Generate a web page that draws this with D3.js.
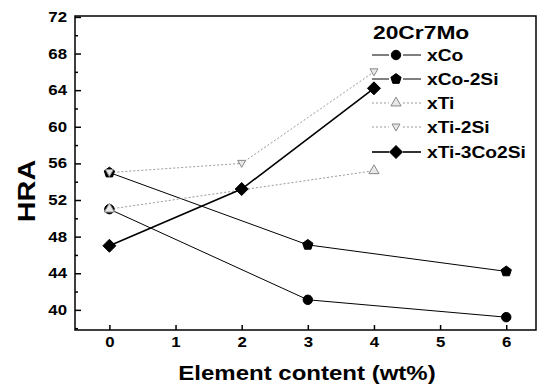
<!DOCTYPE html>
<html><head><meta charset="utf-8">
<script src="https://cdn.jsdelivr.net/npm/d3@7"></script>
<style>body{margin:0;background:#fff}svg{display:block}text{font-family:"Liberation Sans",Arial,sans-serif;font-weight:bold}</style>
</head><body><svg id="c" width="538" height="387"></svg>
<script>
const xTicks = [0,1,2,3,4,5,6];
const yTicks = [40,44,48,52,56,60,64,68,72];
const seriesNames = ["xCo","xCo-2Si","xTi","xTi-2Si","xTi-3Co2Si"];
const xCoX = [0,3,6],   xCoY = [51,41.1,39.2];
const xCo2SiX = [0,3,6], xCo2SiY = [55,47.1,44.2];
const xTiX = [0,4],      xTiY = [51,55.2];
const xTi2SiX = [0,2,4], xTi2SiY = [55,56,66];
const xTi3CoX = [0,2,4], xTi3CoY = [47,53.2,64.2];
const legendTitle = "20Cr7Mo";

const svg = d3.select("#c");
const L=75, R=536, T=16, B=330;
const x = d3.scaleLinear().domain([-0.52,6.45]).range([L,R]);
const y = d3.scaleLinear().domain([37.8,72.1]).range([B,T]);
const WIDE = 1.2;
function widen(sel){ sel.each(function(){ const w=this.getComputedTextLength(); d3.select(this).attr("textLength",w*WIDE).attr("lengthAdjust","spacingAndGlyphs"); }); }

const styles = [
 {x:xCoX,y:xCoY,stroke:"#000",dash:null,w:1,sym:"circle",fill:"#000",mstroke:"#000",size:70},
 {x:xCo2SiX,y:xCo2SiY,stroke:"#000",dash:null,w:1,sym:"pent",fill:"#000",mstroke:"#000",size:70},
 {x:xTiX,y:xTiY,stroke:"#999",dash:"2,2",w:1,sym:"tri",fill:"#e8e8e8",mstroke:"#888",size:45},
 {x:xTi2SiX,y:xTi2SiY,stroke:"#999",dash:"2,2",w:1,sym:"dtri",fill:"#e8e8e8",mstroke:"#888",size:45},
 {x:xTi3CoX,y:xTi3CoY,stroke:"#000",dash:null,w:1.6,sym:"diamond",fill:"#000",mstroke:"#000",size:90},
];
function pentagonPath(r){const p=[];for(let i=0;i<5;i++){const a=-Math.PI/2+i*2*Math.PI/5;p.push([r*Math.cos(a),r*Math.sin(a)]);}return "M"+p.map(d=>d.join(",")).join("L")+"Z";}
function symPath(s,size){
  if(s==="circle") return d3.symbol(d3.symbolCircle,size)();
  if(s==="pent") return pentagonPath(Math.sqrt(size/2.4));
  if(s==="tri") return d3.symbol(d3.symbolTriangle,size)();
  if(s==="dtri") return "M-4,-3L4,-3L0,4Z";
  if(s==="diamond") return "M0,-6.5L6.5,0L0,6.5L-6.5,0Z";
}

// frame
svg.append("rect").attr("x",L).attr("y",T).attr("width",R-L).attr("height",B-T).attr("fill","none").attr("stroke","#000").attr("stroke-width",1.5);

// axes
const gx = svg.append("g").attr("transform",`translate(0,${B})`)
 .call(d3.axisBottom(x).tickValues(xTicks).tickSizeInner(-5).tickSizeOuter(0).tickPadding(7).tickFormat(d3.format("d")));
const gy = svg.append("g").attr("transform",`translate(${L},0)`)
 .call(d3.axisLeft(y).tickValues(yTicks).tickSizeInner(-6).tickSizeOuter(0).tickPadding(8).tickFormat(d3.format("d")));
const gym = svg.append("g").attr("transform",`translate(${L},0)`)
 .call(d3.axisLeft(y).tickValues(d3.range(38,72,4)).tickSizeInner(-3).tickSizeOuter(0).tickFormat(""));
[gx,gy,gym].forEach(g=>{g.select(".domain").remove();g.selectAll("line").attr("stroke","#000").attr("stroke-width",1.5);});
gx.selectAll("text").attr("font-size",14).attr("fill","#000").call(widen);
gy.selectAll("text").attr("font-size",14).attr("fill","#000").call(widen);

// lines
const line = d3.line();
styles.forEach(s=>{
  const pts = s.x.map((v,i)=>[x(v),y(s.y[i])]);
  svg.append("path").attr("d",line(pts)).attr("fill","none").attr("stroke",s.stroke).attr("stroke-width",s.w).attr("stroke-dasharray",s.dash);
});
styles.forEach(s=>{
  s.x.forEach((v,i)=>{
    svg.append("path").attr("d",symPath(s.sym,s.size)).attr("transform",`translate(${x(v)},${y(s.y[i])})`)
      .attr("fill",s.fill).attr("stroke",s.mstroke).attr("stroke-width",1);
  });
});

// legend
svg.append("text").attr("x",373).attr("y",39).attr("font-size",19).text(legendTitle).call(widen);
const ly = [55,79,103,127,152];
styles.forEach((s,i)=>{
  const g = svg.append("g");
  [[372,389],[403,421]].forEach(([a,b])=>{
    g.append("line").attr("x1",a).attr("x2",b).attr("y1",ly[i]).attr("y2",ly[i]).attr("stroke",s.stroke).attr("stroke-width",s.w).attr("stroke-dasharray",s.dash);
  });
  g.append("path").attr("d",symPath(s.sym,s.size)).attr("transform",`translate(396,${ly[i]})`).attr("fill",s.fill).attr("stroke",s.mstroke);
  g.append("text").attr("x",427).attr("y",ly[i]+6).attr("font-size",16).text(seriesNames[i]).call(widen);
});

// axis titles
svg.append("text").attr("x",307).attr("y",380).attr("text-anchor","middle").attr("font-size",20).text("Element content (wt%)").call(widen);
svg.append("text").attr("transform","translate(35,191) rotate(-90)").attr("text-anchor","middle").attr("font-size",24).text("HRA").call(widen);
</script></body></html>
